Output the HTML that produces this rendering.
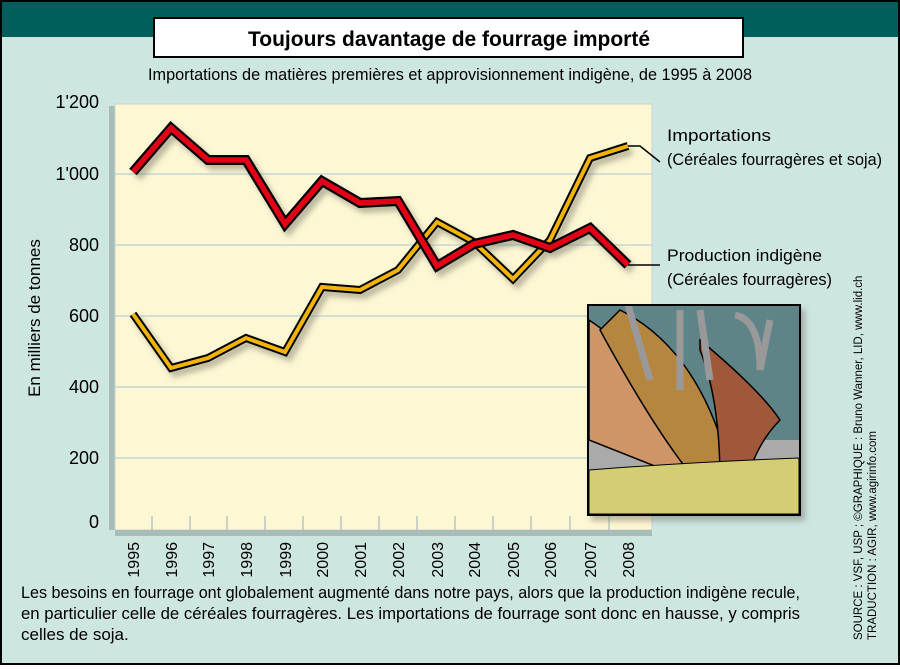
<!DOCTYPE html><html><head><meta charset="utf-8"><style>
body{margin:0;width:900px;height:665px;overflow:hidden;font-family:"Liberation Sans",sans-serif;}
</style></head><body>
<svg width="900" height="665" xmlns="http://www.w3.org/2000/svg" font-family="Liberation Sans, sans-serif">
<defs><filter id="sh" x="-10%" y="-10%" width="130%" height="130%"><feDropShadow dx="4" dy="5" stdDeviation="3" flood-color="#776" flood-opacity="0.5"/></filter></defs>
<rect width="900" height="665" fill="#000"/>
<rect x="2" y="2" width="896" height="661" fill="#cde6e2"/>
<rect x="2" y="2" width="896" height="35" fill="#005e5a"/>
<rect x="154" y="18" width="589" height="39" fill="#fff" stroke="#000" stroke-width="2"/>
<text x="248" y="46" font-size="21" font-weight="bold" textLength="402" lengthAdjust="spacingAndGlyphs">Toujours davantage de fourrage importé</text>
<text x="148" y="80" font-size="17" textLength="604" lengthAdjust="spacingAndGlyphs">Importations de matières premières et approvisionnement indigène, de 1995 à 2008</text>
<rect x="109" y="106" width="6" height="424" fill="#a8bcba"/>
<rect x="115" y="104" width="537" height="426" fill="#fdf7d4" stroke="#c8d4cc" stroke-width="1"/>
<g stroke="#b9d3d3" stroke-width="1.2">
<line x1="115" y1="174" x2="652" y2="174"/><line x1="115" y1="245" x2="652" y2="245"/><line x1="115" y1="316" x2="652" y2="316"/><line x1="115" y1="387" x2="652" y2="387"/><line x1="115" y1="458" x2="652" y2="458"/>
</g>
<rect x="115" y="530" width="537" height="6" fill="#a8bcba"/>
<g stroke="#a8bcba" stroke-width="1.2">
<line x1="152" y1="516" x2="152" y2="530"/><line x1="190" y1="516" x2="190" y2="530"/><line x1="227" y1="516" x2="227" y2="530"/><line x1="265" y1="516" x2="265" y2="530"/><line x1="303" y1="516" x2="303" y2="530"/><line x1="341" y1="516" x2="341" y2="530"/><line x1="379" y1="516" x2="379" y2="530"/><line x1="417" y1="516" x2="417" y2="530"/><line x1="455" y1="516" x2="455" y2="530"/><line x1="493" y1="516" x2="493" y2="530"/><line x1="531" y1="516" x2="531" y2="530"/><line x1="570" y1="516" x2="570" y2="530"/><line x1="609" y1="516" x2="609" y2="530"/>
</g>
<g font-size="18" text-anchor="end">
<text x="99" y="108">1'200</text><text x="99" y="180">1'000</text><text x="99" y="251">800</text><text x="99" y="322">600</text><text x="99" y="393">400</text><text x="99" y="464">200</text><text x="99" y="528">0</text>
</g>
<text transform="translate(40,318) rotate(-90)" text-anchor="middle" font-size="17">En milliers de tonnes</text>
<g font-size="16" text-anchor="end">
<text transform="translate(139,542) rotate(-90)">1995</text><text transform="translate(177,542) rotate(-90)">1996</text><text transform="translate(214,542) rotate(-90)">1997</text><text transform="translate(252,542) rotate(-90)">1998</text><text transform="translate(291,542) rotate(-90)">1999</text><text transform="translate(328,542) rotate(-90)">2000</text><text transform="translate(366,542) rotate(-90)">2001</text><text transform="translate(404,542) rotate(-90)">2002</text><text transform="translate(443,542) rotate(-90)">2003</text><text transform="translate(480,542) rotate(-90)">2004</text><text transform="translate(519,542) rotate(-90)">2005</text><text transform="translate(556,542) rotate(-90)">2006</text><text transform="translate(596,542) rotate(-90)">2007</text><text transform="translate(634,542) rotate(-90)">2008</text>
</g>
<g fill="none" stroke-linejoin="miter" filter="url(#sh)">
<polyline points="133,314 171,368 208,358 246,338 285,352 322,287 360,290 398,270 437,222 474,242 513,279 550,240 590,158 628,146" stroke="#000" stroke-width="8"/>
<polyline points="133,314 171,368 208,358 246,338 285,352 322,287 360,290 398,270 437,222 474,242 513,279 550,240 590,158 628,146" stroke="#f2b400" stroke-width="4"/>
<polyline points="133,172 171,128 208,160 246,160 285,224 322,181 360,203 398,201 437,266 474,244 513,235 550,248 590,228 628,265" stroke="#000" stroke-width="10"/>
<polyline points="133,172 171,128 208,160 246,160 285,224 322,181 360,203 398,201 437,266 474,244 513,235 550,248 590,228 628,265" stroke="#e30613" stroke-width="5.5"/>
</g>
<polyline points="628,146 640,146 660,162" fill="none" stroke="#000" stroke-width="1.5"/>
<polyline points="628,265 640,265 660,265" fill="none" stroke="#000" stroke-width="1.5"/>
<g font-size="17">
<text x="667" y="141" textLength="104" lengthAdjust="spacingAndGlyphs">Importations</text><text x="667" y="165" textLength="215" lengthAdjust="spacingAndGlyphs">(Céréales fourragères et soja)</text>
<text x="667" y="261" textLength="155" lengthAdjust="spacingAndGlyphs">Production indigène</text><text x="667" y="285" textLength="165" lengthAdjust="spacingAndGlyphs">(Céréales fourragères)</text>
</g>
<g filter="url(#sh)">
<rect x="588" y="305" width="212" height="210" fill="#5f8488" stroke="#000" stroke-width="2"/>
</g>
<rect x="589" y="440" width="210" height="30" fill="#a9aaa9"/>
<path d="M589 320 Q650 360 700 460 L690 480 L589 440 Z" fill="#cf9566" stroke="#000" stroke-width="1.5"/>
<path d="M620 310 Q700 350 730 470 L700 485 Q660 440 600 330 Z" fill="#b5863f" stroke="#000" stroke-width="1.5"/>
<path d="M700 340 Q760 390 780 420 Q760 440 750 470 L720 480 Q720 400 700 350 Z" fill="#a0583a" stroke="#000" stroke-width="1.5"/>
<g stroke="#999" stroke-width="7" fill="none">
<path d="M628 305 L650 380"/><path d="M680 310 L680 390"/><path d="M700 310 L710 380"/><path d="M735 315 Q760 320 760 370"/><path d="M770 320 L760 370"/>
</g>
<path d="M589 470 Q690 462 799 458 L799 514 L589 514 Z" fill="#d4cd73" stroke="#000" stroke-width="1"/>
<rect x="588" y="305" width="212" height="210" fill="none" stroke="#000" stroke-width="2"/>
<g font-size="11.5">
<text transform="translate(862,640) rotate(-90)">SOURCE : VSF, USP ; ©GRAPHIQUE : Bruno Wanner, LID, www.lid.ch</text>
<text transform="translate(876,640) rotate(-90)">TRADUCTION : AGIR, www.agirinfo.com</text>
</g>
<g font-size="17">
<text x="21" y="598" textLength="779" lengthAdjust="spacingAndGlyphs">Les besoins en fourrage ont globalement augmenté dans notre pays, alors que la production indigène recule,</text>
<text x="21" y="619" textLength="779" lengthAdjust="spacingAndGlyphs">en particulier celle de céréales fourragères. Les importations de fourrage sont donc en hausse, y compris</text>
<text x="21" y="640">celles de soja.</text>
</g>
</svg>
</body></html>
